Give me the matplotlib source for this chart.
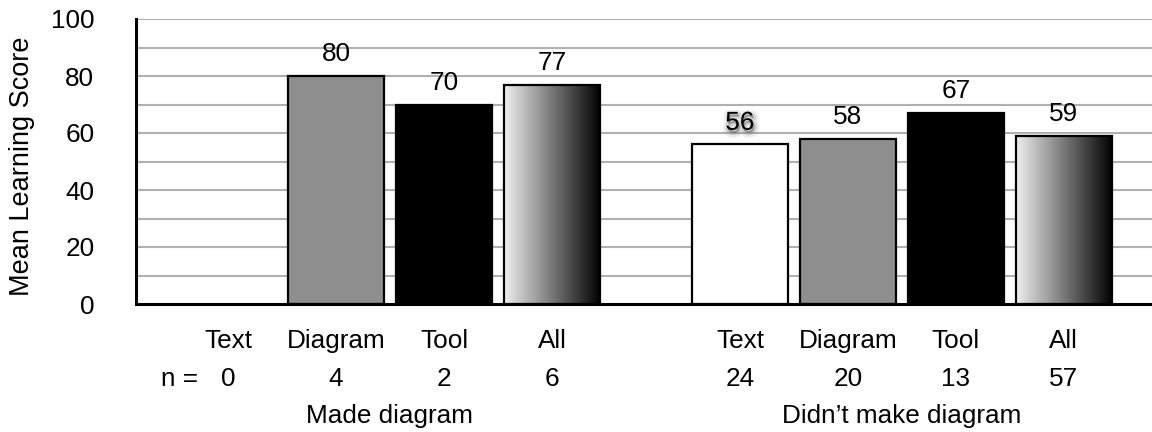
import numpy as np
import matplotlib
matplotlib.use("Agg")
import matplotlib.pyplot as plt
import matplotlib.patheffects as pe
from matplotlib.colors import LinearSegmentedColormap
from matplotlib.transforms import blended_transform_factory

plt.rcParams['font.family'] = ['Liberation Sans', 'DejaVu Sans']

conditions = ["Text", "Diagram", "Tool", "All"]
groups = ["Made diagram", "Didn\u2019t make diagram"]
made_scores = [np.nan, 80, 70, 77]
made_n = [0, 4, 2, 6]
not_made_scores = [56, 58, 67, 59]
not_made_n = [24, 20, 13, 57]

fills = ["white", "#8f8f8f", "black", "gradient"]
group_gap = 4.74
bar_w = 0.89
fs = 18.8

fig = plt.figure(figsize=(11.52, 4.32), dpi=100)
ax = fig.add_axes([136 / 1152, (432 - 304) / 432, (1152 - 136) / 1152, 285 / 432])
trans = blended_transform_factory(ax.transData, ax.transAxes)

grad_cmap = LinearSegmentedColormap.from_list("shade", ["#efefef", "#000000"])
grad = np.linspace(0, 1, 256).reshape(1, -1)

for g, (scores, ns) in enumerate([(made_scores, made_n), (not_made_scores, not_made_n)]):
    base = g * group_gap
    for i, (val, n) in enumerate(zip(scores, ns)):
        x = base + i
        if not np.isnan(val):
            kind = fills[i]
            face = "none" if kind == "gradient" else kind
            bar = ax.bar(x, val, width=bar_w, color=face, edgecolor="black",
                         linewidth=1.6, zorder=3)[0]
            if kind == "gradient":
                im = ax.imshow(grad, cmap=grad_cmap, aspect="auto",
                               extent=(x - bar_w / 2, x + bar_w / 2, 0, val),
                               zorder=2.9)
                im.set_clip_path(bar)
            effects = None
            if g == 1 and i == 0:
                effects = [pe.Stroke(linewidth=7, foreground="gray", alpha=0.12, offset=(1, -2)),
                           pe.Stroke(linewidth=3.5, foreground="gray", alpha=0.25, offset=(1, -2)),
                           pe.Normal()]
            ax.annotate(f"{val:g}", (x, val), xytext=(0, 10.5), textcoords="offset points",
                        ha="center", va="baseline", fontsize=fs, zorder=5,
                        path_effects=effects)
        ax.text(x, -0.131, conditions[i], transform=trans, ha="center", va="center",
                fontsize=fs, clip_on=False)
        ax.text(x, -0.263, str(n), transform=trans, ha="center", va="center",
                fontsize=fs, clip_on=False)
    ax.text(base + 1.5, -0.394, groups[g], transform=trans,
            ha="center", va="center", fontsize=fs, clip_on=False)

ax.text(-0.28, -0.263, "n =", transform=trans,
        ha="right", va="center", fontsize=fs, clip_on=False)

ax.set_xlim(-0.852, 8.556)
ax.set_ylim(0, 100)
ax.set_yticks(np.arange(0, 101, 20))
ax.set_yticks(np.arange(0, 101, 10), minor=True)
ax.tick_params(axis="y", which="both", length=0, pad=30, labelsize=fs)
ax.set_xticks([])
ax.grid(axis="y", which="both", color="#b0b0b0", linewidth=1.5, zorder=0)
ax.set_axisbelow(True)

for side in ["top", "right"]:
    ax.spines[side].set_visible(False)
for side in ["left", "bottom"]:
    ax.spines[side].set_linewidth(2.2)
    ax.spines[side].set_zorder(4)

fig.text(22 / 1152, (432 - 166) / 432, "Mean Learning Score", rotation=90,
         ha="center", va="center", fontsize=19.5)

fig.savefig("out.png", dpi=100)
